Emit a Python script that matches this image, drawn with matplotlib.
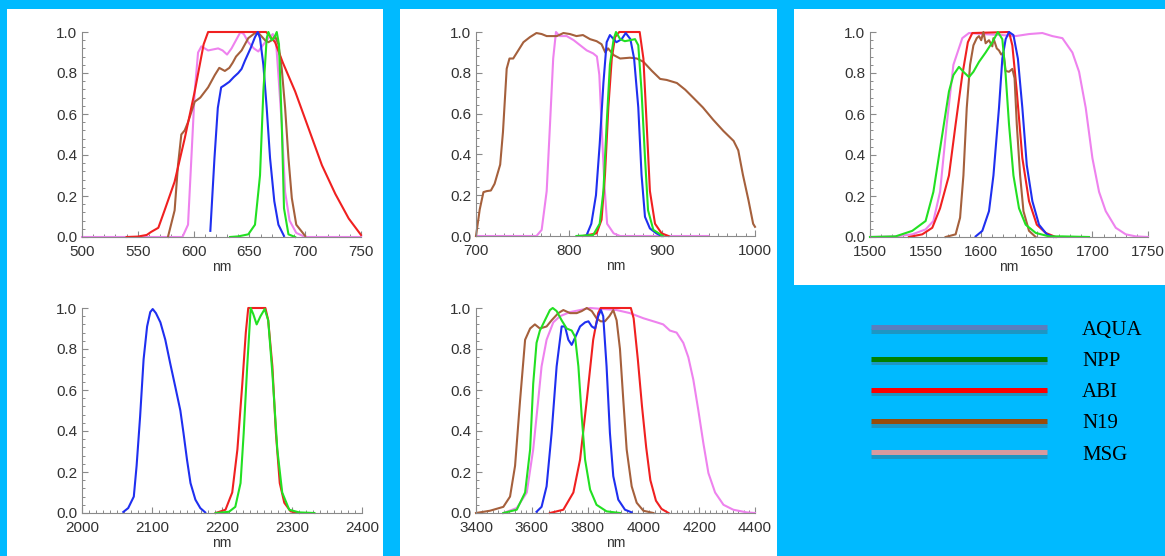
import matplotlib
matplotlib.use("Agg")
import matplotlib.pyplot as plt
import matplotlib.patheffects as pe
from matplotlib.lines import Line2D
from matplotlib.patches import Rectangle
from matplotlib.ticker import MultipleLocator, FormatStrFormatter

# ---- spectral response data (nm, relative response) ----
# panel 1: red visible band
aqua_064_nm = [615, 618.7, 621.7, 624.7, 627.6, 632, 636, 640, 643, 646, 651, 655, 657.5, 659.5, 662.5, 665.5, 668.5, 672.3, 676, 681]
aqua_064_rsr = [0.03, 0.385, 0.63, 0.73, 0.74, 0.757, 0.78, 0.80, 0.82, 0.86, 0.92, 0.975, 1.0, 0.97, 0.84, 0.63, 0.385, 0.175, 0.06, 0.005]
npp_064_nm = [632.6, 640, 649, 655, 659.5, 662.5, 665.5, 667, 670, 672, 674.5, 676.5, 679, 681, 685, 691]
npp_064_rsr = [0, 0.003, 0.013, 0.06, 0.30, 0.71, 0.97, 1.0, 0.96, 0.97, 1.0, 0.94, 0.55, 0.14, 0.013, 0]
abi_064_nm = [540, 550, 558, 562, 568.4, 574, 583, 592, 601, 609, 613, 665, 673, 680, 691, 703, 715, 727, 739, 750]
abi_064_rsr = [0, 0.002, 0.01, 0.025, 0.045, 0.13, 0.27, 0.48, 0.71, 0.94, 1.0, 1.0, 0.95, 0.85, 0.71, 0.53, 0.35, 0.21, 0.09, 0.01]
n19_064_nm = [577, 583, 586, 589, 592, 595, 601, 606, 613, 619, 623, 628, 632, 635, 638, 643, 649, 655, 659, 664, 667, 670, 673, 676, 679, 682, 685, 688, 692, 700]
n19_064_rsr = [0, 0.13, 0.35, 0.50, 0.52, 0.56, 0.66, 0.68, 0.73, 0.79, 0.825, 0.81, 0.825, 0.85, 0.88, 0.91, 0.97, 0.995, 0.99, 0.96, 0.95, 0.96, 0.98, 0.94, 0.82, 0.63, 0.385, 0.19, 0.06, 0.005]
msg_064_nm = [500, 590, 595, 598, 601, 604, 607, 613, 622, 626, 630, 634, 639, 642, 645, 649, 654, 658, 662, 667, 671, 674, 676, 679, 682, 686, 692, 700, 750]
msg_064_rsr = [0, 0, 0.06, 0.385, 0.71, 0.90, 0.93, 0.91, 0.92, 0.91, 0.89, 0.92, 0.97, 1.0, 0.99, 0.95, 0.92, 0.905, 0.935, 0.97, 0.99, 0.94, 0.79, 0.55, 0.22, 0.08, 0.02, 0, 0]

# panel 2: near infrared band
aqua_086_nm = [819, 824, 829, 833, 837, 840.5, 844, 848, 851, 856.6, 861, 866, 870, 874.5, 878, 881.7, 887, 894, 899.6]
aqua_086_rsr = [0.005, 0.06, 0.2, 0.45, 0.75, 0.95, 0.985, 0.965, 0.95, 0.965, 0.995, 0.965, 0.87, 0.63, 0.30, 0.094, 0.037, 0.013, 0]
npp_086_nm = [808, 826, 833, 837, 840.5, 844, 848, 850.5, 855, 860, 866, 871, 874.5, 878, 881.7, 885, 890.7, 901]
npp_086_rsr = [0, 0.005, 0.06, 0.22, 0.55, 0.84, 0.965, 1.0, 0.965, 0.955, 0.96, 0.965, 0.935, 0.71, 0.385, 0.126, 0.03, 0]
abi_086_nm = [815, 829.7, 835, 838.7, 842.3, 846, 849.5, 854, 876, 880, 883.5, 887, 892.5, 899.6, 907]
abi_086_rsr = [0, 0.013, 0.08, 0.30, 0.63, 0.87, 0.975, 1.0, 1.0, 0.87, 0.55, 0.22, 0.06, 0.013, 0]
n19_086_nm = [700, 704, 708, 711.5, 716, 720, 726, 729, 733, 736, 740, 745.5, 751, 758, 765, 770.6, 776, 781, 787, 794, 801, 808, 815, 822.6, 829.7,
              835, 839, 842, 848, 855, 865.6, 873, 880, 889, 898, 905, 916, 925, 934, 944, 955, 966, 977, 982, 987, 993, 998, 1000]
n19_086_rsr = [0, 0.13, 0.215, 0.22, 0.223, 0.256, 0.35, 0.51, 0.82, 0.87, 0.87, 0.91, 0.95, 0.975, 0.995, 0.99, 0.98, 0.98, 0.98, 0.995, 0.99, 0.98, 0.985, 0.965, 0.955,
               0.94, 0.90, 0.92, 0.887, 0.87, 0.874, 0.87, 0.854, 0.81, 0.77, 0.765, 0.75, 0.717, 0.676, 0.63, 0.57, 0.515, 0.466, 0.42, 0.30, 0.175, 0.06, 0.045]
msg_086_nm = [700, 765, 770.6, 776, 779.6, 783, 786, 790, 797.5, 805, 812, 819, 826, 830, 832.6, 835, 838, 841, 848, 855, 950]
msg_086_rsr = [0, 0, 0.03, 0.22, 0.55, 0.87, 1.0, 0.98, 0.98, 0.96, 0.935, 0.91, 0.895, 0.88, 0.79, 0.55, 0.255, 0.06, 0.013, 0, 0]

# panel 3: 1.6 micron band
aqua_16_nm = [1595, 1601, 1607, 1611, 1616, 1619, 1622, 1625, 1629, 1633, 1637, 1641, 1646, 1652, 1659, 1665]
aqua_16_rsr = [0.003, 0.03, 0.126, 0.30, 0.63, 0.87, 0.965, 1.0, 0.985, 0.87, 0.63, 0.35, 0.175, 0.06, 0.013, 0]
npp_16_nm = [1500, 1523, 1538, 1550, 1557, 1565, 1571, 1575, 1580, 1584, 1589, 1593, 1598, 1604, 1610, 1615, 1619, 1622, 1625, 1629, 1634, 1640, 1649, 1661, 1673, 1697]
npp_16_rsr = [0, 0.003, 0.03, 0.078, 0.22, 0.50, 0.71, 0.79, 0.83, 0.806, 0.78, 0.806, 0.854, 0.90, 0.95, 1.0, 0.965, 0.79, 0.55, 0.30, 0.14, 0.06, 0.02, 0.003, 0.003, 0]
abi_16_nm = [1535, 1547, 1556, 1563, 1571, 1577, 1583, 1588, 1592, 1625, 1628, 1632, 1637, 1643, 1650, 1658, 1667]
abi_16_rsr = [0, 0.013, 0.045, 0.14, 0.30, 0.55, 0.79, 0.95, 0.995, 1.0, 0.935, 0.71, 0.385, 0.175, 0.06, 0.02, 0]
n19_16_nm = [1568, 1577, 1581, 1584, 1587, 1590, 1593, 1596, 1598, 1600, 1602, 1604, 1607, 1610, 1611, 1614, 1616, 1618, 1620, 1622, 1625, 1628, 1630, 1632, 1635, 1638, 1643, 1649]
n19_16_rsr = [0, 0.013, 0.094, 0.30, 0.63, 0.84, 0.935, 0.97, 0.98, 0.96, 1.0, 0.945, 0.96, 0.93, 0.97, 0.92, 0.91, 0.89, 0.90, 0.81, 0.806, 0.82, 0.775, 0.55, 0.30, 0.126, 0.03, 0]
msg_16_nm = [1500, 1523, 1538, 1550, 1557, 1563, 1569, 1575, 1583, 1589, 1601, 1619, 1631, 1643, 1655, 1664, 1673, 1682, 1688, 1694, 1700, 1706, 1712, 1721, 1730, 1739, 1750]
msg_16_rsr = [0, 0.003, 0.013, 0.037, 0.078, 0.22, 0.55, 0.84, 0.97, 0.995, 0.99, 0.985, 0.98, 0.99, 0.995, 0.98, 0.97, 0.90, 0.806, 0.63, 0.385, 0.22, 0.126, 0.045, 0.013, 0.003, 0]

# panel 4: 2.2 micron band
aqua_22_nm = [2059, 2066, 2074, 2078, 2083, 2088, 2093, 2097.5, 2101, 2105.6, 2112, 2119, 2126, 2133, 2140.5, 2145, 2150, 2155, 2162, 2169, 2176]
aqua_22_rsr = [0.005, 0.024, 0.08, 0.23, 0.47, 0.75, 0.91, 0.98, 0.995, 0.975, 0.93, 0.845, 0.73, 0.62, 0.50, 0.39, 0.26, 0.146, 0.065, 0.024, 0.003]
npp_22_nm = [2191, 2210, 2219, 2226.5, 2231, 2236, 2241, 2244.7, 2249.5, 2255, 2261, 2266, 2272, 2279, 2286, 2296, 2310, 2332]
npp_22_rsr = [0, 0.006, 0.03, 0.146, 0.39, 0.715, 1.0, 0.97, 0.92, 0.96, 0.995, 0.94, 0.68, 0.31, 0.1, 0.016, 0.003, 0]
abi_22_nm = [2191, 2205, 2214.6, 2222, 2229, 2234, 2237.5, 2262, 2266, 2272, 2277, 2282.5, 2289, 2298, 2310]
abi_22_rsr = [0, 0.016, 0.1, 0.31, 0.63, 0.88, 1.0, 1.0, 0.94, 0.715, 0.39, 0.146, 0.05, 0.008, 0]

# panel 5: 3.9 micron band
aqua_39_nm = [3617, 3635, 3653, 3671, 3689, 3707, 3719, 3731, 3743, 3755, 3773, 3791, 3803, 3815, 3827, 3838, 3848, 3856, 3868, 3880, 3892, 3910, 3934, 3958]
aqua_39_rsr = [0.006, 0.03, 0.13, 0.39, 0.715, 0.91, 0.91, 0.845, 0.82, 0.855, 0.91, 0.93, 0.935, 0.91, 0.90, 0.96, 0.99, 0.96, 0.715, 0.39, 0.18, 0.065, 0.016, 0.003]
npp_39_nm = [3498, 3546, 3576, 3594, 3605, 3617, 3629, 3647, 3665, 3675, 3689, 3707, 3725, 3743, 3755, 3767, 3779, 3791, 3809, 3832, 3868, 3916]
npp_39_rsr = [0, 0.016, 0.1, 0.31, 0.63, 0.83, 0.89, 0.94, 0.99, 1.0, 0.985, 0.94, 0.90, 0.89, 0.86, 0.715, 0.47, 0.26, 0.114, 0.04, 0.008, 0]
abi_39_nm = [3665, 3713, 3749, 3773, 3797, 3820, 3838, 3847, 3955, 3965, 3980, 3995, 4010, 4025, 4045, 4065, 4090]
abi_39_rsr = [0, 0.016, 0.1, 0.26, 0.55, 0.845, 0.975, 1.0, 1.0, 0.95, 0.75, 0.52, 0.32, 0.16, 0.06, 0.02, 0]
n19_39_nm = [3400, 3450, 3498, 3522, 3540, 3558, 3576, 3594, 3611, 3629, 3653, 3671, 3695, 3713, 3737, 3761, 3779, 3797, 3815, 3832, 3847, 3862, 3878, 3892,
             3904, 3916, 3928, 3940, 3958, 3976, 4000, 4036]
n19_39_rsr = [0, 0.011, 0.03, 0.08, 0.23, 0.55, 0.845, 0.90, 0.92, 0.90, 0.91, 0.94, 0.975, 0.99, 0.975, 0.975, 0.985, 1.0, 0.985, 0.95, 0.935, 0.935, 0.96, 0.99,
              0.94, 0.80, 0.55, 0.31, 0.13, 0.05, 0.011, 0]
msg_39_nm = [3498, 3546, 3582, 3605, 3623, 3635, 3653, 3677, 3701, 3737, 3773, 3809, 3856, 3904, 3952, 4000, 4048, 4071, 4095, 4119, 4143, 4161, 4179, 4197,
             4215, 4233, 4257, 4287, 4322, 4370, 4400]
msg_39_rsr = [0, 0.024, 0.1, 0.31, 0.55, 0.715, 0.845, 0.93, 0.96, 0.98, 0.99, 1.0, 0.995, 0.99, 0.975, 0.95, 0.93, 0.92, 0.89, 0.88, 0.83, 0.76, 0.65, 0.50,
              0.34, 0.195, 0.1, 0.04, 0.016, 0.003, 0]

# axis ranges / ticks per panel
x_ranges = [(500, 750), (700, 1000), (1500, 1750), (2000, 2400), (3400, 4400)]
x_major = [50, 100, 50, 100, 200]
x_minor = [10, 10, 10, 10, 20]

legend_names = ["AQUA", "NPP", "ABI", "N19", "MSG"]
legend_colors = ["#5a7ebe", "#008000", "#ff0000", "#994c0a", "#d99a9e"]

# plot colours of the sensors
c_aqua, c_npp, c_abi, c_n19, c_msg = "#1f2ff0", "#22e022", "#f02020", "#a5603c", "#ee82ee"

W, H = 1165, 556
bg = "#00baff"

fig = plt.figure(figsize=(W / 100, H / 100), dpi=100, facecolor=bg)


def px_box(x0, y0, x1, y1):
    # pixel box (top-left origin) -> figure fraction rect
    return [x0 / W, 1 - y1 / H, (x1 - x0) / W, (y1 - y0) / H]


# white backing panels
for x0, y0, x1, y1 in [(7, 9, 383, 556), (400, 9, 777, 556), (794, 9, 1165, 285)]:
    r = px_box(x0, y0, x1, y1)
    fig.add_artist(Rectangle((r[0], r[1]), r[2], r[3], transform=fig.transFigure,
                             facecolor="white", edgecolor="none", zorder=-5))

ax_boxes = [(82, 32, 361, 237), (476, 32, 755, 236), (870, 32, 1148, 237),
            (82, 308, 362, 513), (476, 308, 755, 513)]

panels = [
    [(msg_064_nm, msg_064_rsr, c_msg), (n19_064_nm, n19_064_rsr, c_n19), (abi_064_nm, abi_064_rsr, c_abi),
     (aqua_064_nm, aqua_064_rsr, c_aqua), (npp_064_nm, npp_064_rsr, c_npp)],
    [(msg_086_nm, msg_086_rsr, c_msg), (n19_086_nm, n19_086_rsr, c_n19), (abi_086_nm, abi_086_rsr, c_abi),
     (aqua_086_nm, aqua_086_rsr, c_aqua), (npp_086_nm, npp_086_rsr, c_npp)],
    [(msg_16_nm, msg_16_rsr, c_msg), (abi_16_nm, abi_16_rsr, c_abi), (n19_16_nm, n19_16_rsr, c_n19),
     (aqua_16_nm, aqua_16_rsr, c_aqua), (npp_16_nm, npp_16_rsr, c_npp)],
    [(aqua_22_nm, aqua_22_rsr, c_aqua), (abi_22_nm, abi_22_rsr, c_abi), (npp_22_nm, npp_22_rsr, c_npp)],
    [(msg_39_nm, msg_39_rsr, c_msg), (n19_39_nm, n19_39_rsr, c_n19), (abi_39_nm, abi_39_rsr, c_abi),
     (aqua_39_nm, aqua_39_rsr, c_aqua), (npp_39_nm, npp_39_rsr, c_npp)],
]

axis_gray = "#8a8a8a"
label_gray = "#333333"

for i, box in enumerate(ax_boxes):
    ax = fig.add_axes(px_box(*box))
    ax.set_facecolor("none")
    for x, y, c in panels[i]:
        ax.plot(x, y, color=c, lw=1.5, solid_joinstyle="round", clip_on=False)
    ax.set_xlim(*x_ranges[i])
    ax.set_ylim(0, 1)
    ax.xaxis.set_major_locator(MultipleLocator(x_major[i]))
    ax.xaxis.set_minor_locator(MultipleLocator(x_minor[i]))
    ax.yaxis.set_major_locator(MultipleLocator(0.2))
    ax.yaxis.set_minor_locator(MultipleLocator(0.04))
    ax.yaxis.set_major_formatter(FormatStrFormatter("%.1f"))
    for s in ["top", "right"]:
        ax.spines[s].set_visible(False)
    for s in ["left", "bottom"]:
        ax.spines[s].set_color(axis_gray)
        ax.spines[s].set_linewidth(0.8)
    ax.tick_params(which="major", direction="in", length=4, width=0.8, color=axis_gray,
                   labelsize=11, labelcolor=label_gray)
    ax.tick_params(which="minor", direction="in", length=2, width=0.7, color=axis_gray)
    ax.tick_params(axis="x", pad=5.5)
    ax.tick_params(axis="y", pad=3.5)
    for lab in ax.get_xticklabels() + ax.get_yticklabels():
        lab.set_family("Liberation Sans")
    ax.set_xlabel("nm", fontsize=10, family="Liberation Sans", color=label_gray, labelpad=1)

# legend in the empty cell
handles = [Line2D([], [], color=c, lw=3.6, solid_capstyle="butt",
                  path_effects=[pe.SimpleLineShadow(offset=(0, -2.5), shadow_color="#555555", alpha=0.35),
                                pe.Normal()])
           for c in legend_colors]
fig.legend(handles, legend_names, loc="upper left", bbox_to_anchor=(871 / W, 1 - 320 / H),
           frameon=False, borderpad=0, borderaxespad=0, handlelength=8.46, handletextpad=1.68,
           labelspacing=0.56, prop={"family": "Liberation Serif", "size": 15}, labelcolor="black")

fig.savefig("out.png", dpi=100, facecolor=bg)
